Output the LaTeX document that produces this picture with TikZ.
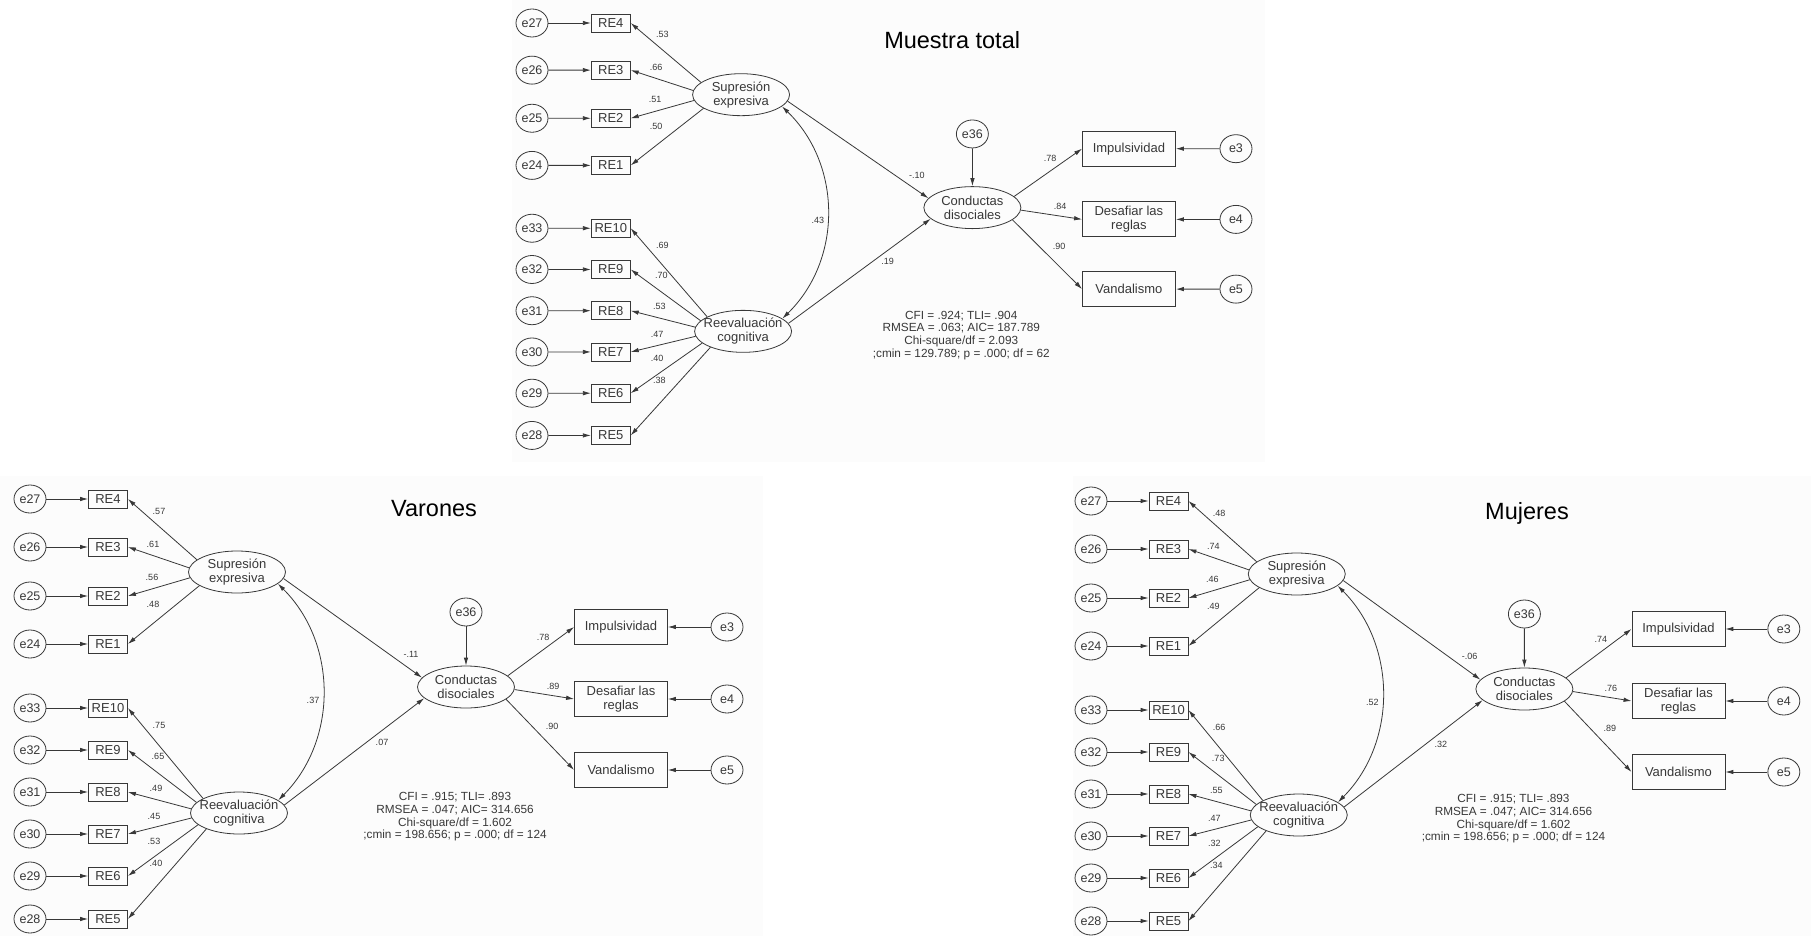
\documentclass[tikz,border=0pt]{standalone}
\usepackage{fontspec}
\setmainfont{Liberation Sans}
\usetikzlibrary{arrows.meta,shapes.geometric}

\begin{document}
\begin{tikzpicture}[x=1pt,y=-1pt,color=black!78,line width=0.8pt,
  font=\fontsize{13}{14}\selectfont,
  err/.style={draw,ellipse,inner sep=0pt,minimum width=32pt,minimum height=28pt,font=\fontsize{12.5}{14}\selectfont},
  ind/.style={draw,inner sep=0pt,minimum width=39pt,minimum height=18pt},
  obs/.style={draw,inner sep=0pt,minimum width=93pt,minimum height=35pt,align=center},
  lat/.style={draw,ellipse,inner xsep=-15pt,inner ysep=0pt,minimum width=97pt,minimum height=42pt,align=center},
  arr/.style={-{Latex[length=8pt,width=4.5pt]}},
  cov/.style={{Latex[length=8pt,width=4.5pt]}-{Latex[length=8pt,width=4.5pt]}},
  coef/.style={font=\fontsize{9}{10}\selectfont},
  fitidx/.style={align=center,font=\fontsize{11.8}{12.7}\selectfont},
  paneltitle/.style={anchor=base,text=black,font=\fontsize{23.5}{28}\selectfont},
  bg/.style={fill=black!1,draw=none}]

\fill[white] (0,0) rectangle (1811,936);
\useasboundingbox (0,0) rectangle (1811,936);
\path[bg] (512,0) rectangle (1265,462);
\path[bg] (0,476) rectangle (763,936);
\path[bg] (1073,476) rectangle (1811,936);

% Muestra total
\begin{scope}[shift={(532,23)},xscale=1.01,yscale=.982]
\node[paneltitle] (ttl) at (416,25.5) {Muestra total};
\node[lat] (sup) at (207,73) {Supresión\\expresiva};
\node[lat] (reev) at (209,314) {Reevaluación\\cognitiva};
\node[lat] (cond) at (436,188) {Conductas\\disociales};
\node[err] (e36) at (436,113) {e36};

\foreach \en/\rn/\yy/\ang/\lx/\ly/\val in {27/4/0/163/129/12/.53,26/3/48/175/123/45/.66,25/2/97/187/122/78/.51,24/1/145/200/123/105/.50}{
  \node[err] (e\en) at (0,\yy) {e\en};
  \node[ind] (re\rn) at (78,\yy) {RE\rn};
  \draw[arr] (e\en) -- (re\rn);
  \draw[arr] (sup.\ang) -- (re\rn.east);
  \node[coef] (l\rn) at (\lx,\ly) {\val};
}
\foreach \en/\rn/\yy/\ang/\lx/\ly/\val in {33/10/209/158/129/226/.69,32/9/251/166/128/257/.70,31/8/293/175/126/289/.53,30/7/335/186/124/317/.47,29/6/377/196/124/342/.40,28/5/420/206/126/364/.38}{
  \node[err] (e\en) at (0,\yy) {e\en};
  \node[ind] (re\rn) at (78,\yy) {RE\rn};
  \draw[arr] (e\en) -- (re\rn);
  \draw[arr] (reev.\ang) -- (re\rn.east);
  \node[coef] (l\rn) at (\lx,\ly) {\val};
}

\draw[arr] (e36) -- (cond);
\draw[arr] (sup.-8) -- (cond.168);
\draw[arr] (reev.10) -- (cond.195);
\draw[cov] (sup.-16) to[bend left=45] (reev.18);
\node[coef] (lcov) at (283,201) {.43};
\node[coef] (lsc) at (381,155) {-.10};
\node[coef] (lrc) at (352,243) {.19};

\foreach \nm/\txt/\yy/\ang/\lx/\ly/\val/\en in {imp/Impulsividad/128/15/513/138/.78/3,des/{Desafiar las\\reglas}/200/-3/523/187/.84/4,van/Vandalismo/271/-17/522/227/.90/5}{
  \node[obs] (\nm) at (591,\yy) {\txt};
  \node[err] (e\en) at (697,\yy) {e\en};
  \draw[arr] (e\en) -- (\nm);
  \draw[arr] (cond.\ang) -- (\nm.west);
  \node[coef] (l\nm) at (\lx,\ly) {\val};
}

\node[fitidx] (gof) at (425,318) {CFI = .924; TLI= .904\\RMSEA = .063; AIC= 187.789\\Chi-square/df = 2.093\\;cmin = 129.789; p = .000; df = 62};
\end{scope}

% Varones
\begin{scope}[shift={(30,499)}]
\node[paneltitle] (ttl) at (404,17) {Varones};
\node[lat] (sup) at (207,73) {Supresión\\expresiva};
\node[lat] (reev) at (209,314) {Reevaluación\\cognitiva};
\node[lat] (cond) at (436,188) {Conductas\\disociales};
\node[err] (e36) at (436,113) {e36};

\foreach \en/\rn/\yy/\ang/\lx/\ly/\val in {27/4/0/163/129/12/.57,26/3/48/175/123/45/.61,25/2/97/187/122/78/.56,24/1/145/200/123/105/.48}{
  \node[err] (e\en) at (0,\yy) {e\en};
  \node[ind] (re\rn) at (78,\yy) {RE\rn};
  \draw[arr] (e\en) -- (re\rn);
  \draw[arr] (sup.\ang) -- (re\rn.east);
  \node[coef] (l\rn) at (\lx,\ly) {\val};
}
\foreach \en/\rn/\yy/\ang/\lx/\ly/\val in {33/10/209/158/129/226/.75,32/9/251/166/128/257/.65,31/8/293/175/126/289/.49,30/7/335/186/124/317/.45,29/6/377/196/124/342/.53,28/5/420/206/126/364/.40}{
  \node[err] (e\en) at (0,\yy) {e\en};
  \node[ind] (re\rn) at (78,\yy) {RE\rn};
  \draw[arr] (e\en) -- (re\rn);
  \draw[arr] (reev.\ang) -- (re\rn.east);
  \node[coef] (l\rn) at (\lx,\ly) {\val};
}

\draw[arr] (e36) -- (cond);
\draw[arr] (sup.-8) -- (cond.168);
\draw[arr] (reev.10) -- (cond.195);
\draw[cov] (sup.-16) to[bend left=45] (reev.18);
\node[coef] (lcov) at (283,201) {.37};
\node[coef] (lsc) at (381,155) {-.11};
\node[coef] (lrc) at (352,243) {.07};

\foreach \nm/\txt/\yy/\ang/\lx/\ly/\val/\en in {imp/Impulsividad/128/15/513/138/.78/3,des/{Desafiar las\\reglas}/200/-3/523/187/.89/4,van/Vandalismo/271/-17/522/227/.90/5}{
  \node[obs] (\nm) at (591,\yy) {\txt};
  \node[err] (e\en) at (697,\yy) {e\en};
  \draw[arr] (e\en) -- (\nm);
  \draw[arr] (cond.\ang) -- (\nm.west);
  \node[coef] (l\nm) at (\lx,\ly) {\val};
}

\node[fitidx] (gof) at (425,318) {CFI = .915; TLI= .893\\RMSEA = .047; AIC= 314.656\\Chi-square/df = 1.602\\;cmin = 198.656; p = .000; df = 124};
\end{scope}

% Mujeres
\begin{scope}[shift={(1091,501)},xscale=.994]
\node[paneltitle] (ttl) at (438.6,18) {Mujeres};
\node[lat] (sup) at (207,73) {Supresión\\expresiva};
\node[lat] (reev) at (209,314) {Reevaluación\\cognitiva};
\node[lat] (cond) at (436,188) {Conductas\\disociales};
\node[err] (e36) at (436,113) {e36};

\foreach \en/\rn/\yy/\ang/\lx/\ly/\val in {27/4/0/163/129/12/.48,26/3/48/175/123/45/.74,25/2/97/187/122/78/.46,24/1/145/200/123/105/.49}{
  \node[err] (e\en) at (0,\yy) {e\en};
  \node[ind] (re\rn) at (78,\yy) {RE\rn};
  \draw[arr] (e\en) -- (re\rn);
  \draw[arr] (sup.\ang) -- (re\rn.east);
  \node[coef] (l\rn) at (\lx,\ly) {\val};
}
\foreach \en/\rn/\yy/\ang/\lx/\ly/\val in {33/10/209/158/129/226/.66,32/9/251/166/128/257/.73,31/8/293/175/126/289/.55,30/7/335/186/124/317/.47,29/6/377/196/124/342/.32,28/5/420/206/126/364/.34}{
  \node[err] (e\en) at (0,\yy) {e\en};
  \node[ind] (re\rn) at (78,\yy) {RE\rn};
  \draw[arr] (e\en) -- (re\rn);
  \draw[arr] (reev.\ang) -- (re\rn.east);
  \node[coef] (l\rn) at (\lx,\ly) {\val};
}

\draw[arr] (e36) -- (cond);
\draw[arr] (sup.-8) -- (cond.168);
\draw[arr] (reev.10) -- (cond.195);
\draw[cov] (sup.-16) to[bend left=45] (reev.18);
\node[coef] (lcov) at (283,201) {.52};
\node[coef] (lsc) at (381,155) {-.06};
\node[coef] (lrc) at (352,243) {.32};

\foreach \nm/\txt/\yy/\ang/\lx/\ly/\val/\en in {imp/Impulsividad/128/15/513/138/.74/3,des/{Desafiar las\\reglas}/200/-3/523/187/.76/4,van/Vandalismo/271/-17/522/227/.89/5}{
  \node[obs] (\nm) at (591,\yy) {\txt};
  \node[err] (e\en) at (697,\yy) {e\en};
  \draw[arr] (e\en) -- (\nm);
  \draw[arr] (cond.\ang) -- (\nm.west);
  \node[coef] (l\nm) at (\lx,\ly) {\val};
}

\node[fitidx] (gof) at (425,318) {CFI = .915; TLI= .893\\RMSEA = .047; AIC= 314.656\\Chi-square/df = 1.602\\;cmin = 198.656; p = .000; df = 124};
\end{scope}

\end{tikzpicture}
\end{document}
